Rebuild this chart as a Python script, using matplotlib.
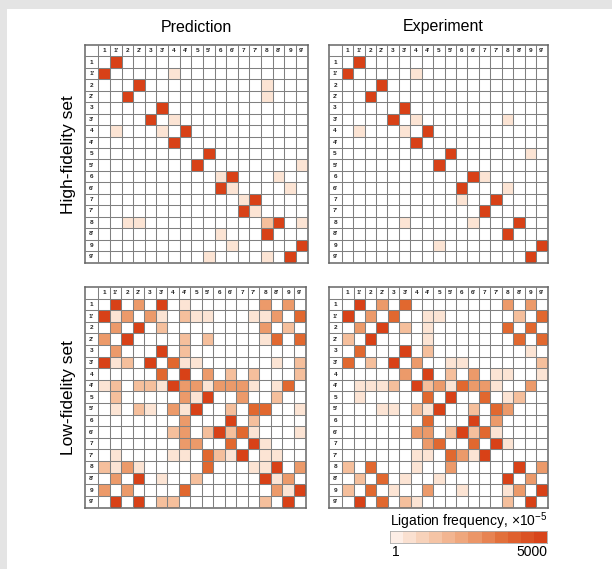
import numpy as np
import matplotlib
matplotlib.use("Agg")
import matplotlib.pyplot as plt
from matplotlib.colors import ListedColormap, BoundaryNorm, LinearSegmentedColormap
from matplotlib.patches import Rectangle

plt.rcParams['font.family'] = ['Liberation Sans', 'DejaVu Sans']
plt.rcParams['mathtext.fontset'] = 'custom'
plt.rcParams['mathtext.rm'] = 'Liberation Sans'

labels = ["1", "1'", "2", "2'", "3", "3'", "4", "4'", "5", "5'",
          "6", "6'", "7", "7'", "8", "8'", "9", "9'"]
idx = {l: i for i, l in enumerate(labels)}

# intensity levels 0 (none) .. 5 (highest), entries: row -> {col: level}
high_pred = {
    "1": {"1'": 5}, "1'": {"1": 5, "4": 1},
    "2": {"2'": 5, "8": 1}, "2'": {"2": 5, "8": 1},
    "3": {"3'": 5}, "3'": {"3": 5, "4": 1},
    "4": {"1'": 1, "3'": 1, "4'": 5}, "4'": {"4": 5},
    "5": {"5'": 5}, "5'": {"5": 5, "9'": 1},
    "6": {"6": 1, "6'": 5, "8'": 1}, "6'": {"6": 5, "6'": 1, "9": 1},
    "7": {"7": 1, "7'": 5}, "7'": {"7": 5, "7'": 1},
    "8": {"2": 1, "2'": 1, "8": 2, "8'": 5, "9'": 1}, "8'": {"6": 1, "8": 5},
    "9": {"6'": 1, "9'": 5}, "9'": {"5'": 1, "8": 1, "9": 5},
}
high_exp = {
    "1": {"1'": 5}, "1'": {"1": 5, "4": 1},
    "2": {"2'": 5}, "2'": {"2": 5},
    "3": {"3'": 5}, "3'": {"3": 5, "4": 1, "8": 1},
    "4": {"1'": 1, "3'": 1, "4'": 5}, "4'": {"4": 5},
    "5": {"5'": 5, "9": 1}, "5'": {"5": 5},
    "6": {"6'": 5, "7": 1}, "6'": {"6": 5, "8": 1},
    "7": {"6": 1, "7'": 5}, "7'": {"7": 5},
    "8": {"3'": 1, "6'": 1, "8'": 5}, "8'": {"8": 5},
    "9": {"5": 1, "9'": 5}, "9'": {"9": 5},
}
low_pred = {
    "1": {"1'": 5, "2'": 3, "3'": 5, "4'": 1, "8": 3, "9": 3},
    "1'": {"1": 5, "1'": 1, "2": 3, "3": 3, "3'": 1, "4'": 2, "5": 1, "5'": 1, "7'": 1, "8": 1, "8'": 3, "9'": 4},
    "2": {"1'": 3, "2'": 5, "3'": 2, "8": 3, "9": 2},
    "2'": {"1": 3, "2": 5, "4'": 2, "5'": 2, "8": 1, "8'": 4, "9'": 4},
    "3": {"1'": 3, "3'": 5, "4'": 2},
    "3'": {"1": 5, "1'": 1, "2": 2, "3": 5, "4": 4, "4'": 1, "5": 1, "8'": 1, "9'": 2},
    "4": {"3'": 4, "4'": 5, "5'": 3, "6'": 2, "7'": 2, "9'": 2},
    "4'": {"1": 1, "1'": 2, "2'": 2, "3": 2, "3'": 1, "4": 5, "4'": 3, "5": 3, "5'": 1, "6": 3, "6'": 3, "7": 3, "7'": 1, "8'": 1, "9": 4},
    "5": {"1'": 2, "4'": 3, "5": 1, "5'": 5, "7": 3, "8'": 2},
    "5'": {"1'": 1, "2'": 2, "3": 1, "4": 3, "4'": 1, "5": 5, "6'": 2, "7'": 4, "8": 4, "9'": 1},
    "6": {"4'": 3, "6'": 5, "7'": 2},
    "6'": {"4": 2, "4'": 3, "5'": 2, "6": 5, "6'": 2, "7": 4, "7'": 1, "9'": 1},
    "7": {"4'": 3, "5": 3, "6'": 4, "7'": 5, "8": 1},
    "7'": {"1'": 1, "4": 1, "4'": 1, "5'": 4, "6": 2, "6'": 1, "7": 5, "8": 1, "8'": 1},
    "8": {"1": 2, "1'": 1, "2": 3, "2'": 1, "5'": 4, "7'": 1, "8": 1, "8'": 5, "9'": 3},
    "8'": {"1'": 3, "2'": 5, "3'": 1, "5": 2, "8": 5, "8'": 1, "9": 3},
    "9": {"1": 3, "2": 3, "4'": 4, "8'": 3, "9": 1, "9'": 5},
    "9'": {"1'": 5, "2'": 5, "3'": 2, "4": 2, "8": 2, "9": 5},
}
low_exp = {
    "1": {"1'": 5, "2'": 3, "3'": 4, "8": 3, "9": 3},
    "1'": {"1": 5, "2": 3, "3": 4, "4'": 1, "5": 1, "8'": 2, "9'": 4},
    "2": {"1'": 3, "2'": 5, "3'": 2, "4'": 1, "8": 4, "9": 4},
    "2'": {"1": 2, "2": 5, "4'": 1, "8'": 4, "9'": 4},
    "3": {"1'": 4, "3'": 5, "4'": 2, "9": 1},
    "3'": {"1": 4, "2": 2, "3": 5, "4": 3, "5'": 1, "6": 1, "9'": 2},
    "4": {"3'": 3, "4'": 5, "5'": 2, "6'": 3, "7'": 1, "8": 1, "9'": 1},
    "4'": {"1'": 1, "2": 1, "2'": 1, "3": 2, "4": 5, "4'": 2, "5": 3, "5'": 1, "6": 4, "6'": 3, "7": 3, "7'": 1, "9": 3},
    "5": {"1'": 1, "4'": 4, "5'": 5, "7": 4, "8": 1, "8'": 2},
    "5'": {"2'": 1, "3": 1, "4": 2, "4'": 1, "5": 5, "6'": 2, "7'": 4, "8": 3},
    "6": {"4'": 4, "6'": 5, "7'": 3},
    "6'": {"4": 3, "4'": 3, "5'": 2, "6": 5, "6'": 2, "7": 4, "7'": 1},
    "7": {"4'": 3, "5": 4, "6'": 4, "7'": 5, "8": 1},
    "7'": {"4": 1, "4'": 1, "5'": 4, "6": 3, "6'": 1, "7": 5},
    "8": {"1": 2, "2": 4, "4": 1, "5'": 3, "8'": 5, "9'": 3},
    "8'": {"1'": 2, "2'": 4, "3'": 1, "5": 1, "8": 5, "9": 3},
    "9": {"1": 2, "2": 4, "3": 1, "4'": 3, "6": 1, "8": 1, "8'": 3, "9'": 5},
    "9'": {"1'": 5, "2'": 4, "3'": 2, "4": 1, "8": 2, "9": 5},
}

titles = ["Prediction", "Experiment"]
row_titles = ["High-fidelity set", "Low-fidelity set"]
cbar_label = r"Ligation frequency, ×10$^{-5}$"
cbar_ticks = ["1", "5000"]

level_colors = ['#ffffff', '#fce4d4', '#f5bf9c', '#ec9a6a', '#e1682f', '#d84117']
cmap = ListedColormap(level_colors)
norm = BoundaryNorm(np.arange(-0.5, 6.5, 1), cmap.N)


def to_matrix(d):
    m = np.zeros((18, 18))
    for r, cols in d.items():
        for c, v in cols.items():
            m[idx[r], idx[c]] = v
    return m


W, H = 612, 569
fig = plt.figure(figsize=(W / 100, H / 100), dpi=100, facecolor='white')
fig.patches.append(Rectangle((0, 1 - 9 / H), 1, 9 / H, transform=fig.transFigure,
                             facecolor='#e4e4e4', edgecolor='none', zorder=0))
fig.patches.append(Rectangle((0, 0), 7 / W, 1, transform=fig.transFigure,
                             facecolor='#e4e4e4', edgecolor='none', zorder=0))


def px_axes(l, t, r, b):
    return fig.add_axes([l / W, 1 - b / H, (r - l) / W, (b - t) / H])


LW = 1.15  # label column width in cells
HH = 1.0   # header row height in cells
panels = [
    (high_pred, (85, 45, 307.5, 262.5)),
    (high_exp, (328.5, 45, 547.5, 262.5)),
    (low_pred, (85, 287, 305.5, 507.5)),
    (low_exp, (329, 287, 547.5, 507.5)),
]

for data, (l, t, r, b) in panels:
    ax = px_axes(l, t, r, b)
    m = to_matrix(data)
    ax.pcolormesh(np.arange(19), np.arange(19), m, cmap=cmap, norm=norm)
    ax.set_xlim(-LW, 18)
    ax.set_ylim(18, -HH)
    for k in range(0, 18):
        ax.plot([k, k], [-HH, 18], color='#808080', lw=0.75, zorder=3)
        ax.plot([-LW, 18], [k, k], color='#808080', lw=0.75, zorder=3)
    for i, lab in enumerate(labels):
        ax.text(i + 0.5, -HH / 2, lab, ha='center', va='center', fontsize=4.6,
                fontweight='bold', color='#222222')
        ax.text(-LW / 2, i + 0.5, lab, ha='center', va='center', fontsize=4.6,
                fontweight='bold', color='#222222')
    ax.set_xticks([])
    ax.set_yticks([])
    for s in ax.spines.values():
        s.set_color('#666666')
        s.set_linewidth(1.1)

fig.text(196 / W, 1 - 27 / H, titles[0], ha='center', va='center', fontsize=11.5)
fig.text(443 / W, 1 - 27 / H, titles[1], ha='center', va='center', fontsize=11.5)
fig.text(69 / W, 1 - 155 / H, row_titles[0], ha='center', va='center', fontsize=12.5, rotation=90)
fig.text(69 / W, 1 - 398 / H, row_titles[1], ha='center', va='center', fontsize=12.5, rotation=90)

# colorbar
cax = px_axes(390, 531, 547, 543)
grad_cmap = LinearSegmentedColormap.from_list('g', ['#fdeee6', '#f6c8aa', '#eea074', '#e26c36', '#d8441a'])
steps = np.linspace(0, 1, 12).reshape(1, -1)
cax.imshow(steps, cmap=grad_cmap, aspect='auto', extent=[0, 1, 0, 1])
cax.set_xticks([])
cax.set_yticks([])
for s in cax.spines.values():
    s.set_color('#aaaaaa')
    s.set_linewidth(0.6)
fig.text(390 / W, 1 - 521 / H, cbar_label, ha='left', va='center', fontsize=10)
fig.text(392 / W, 1 - 552 / H, cbar_ticks[0], ha='left', va='center', fontsize=10)
fig.text(547 / W, 1 - 552 / H, cbar_ticks[1], ha='right', va='center', fontsize=10)

fig.savefig('out.png', dpi=100, facecolor=fig.get_facecolor())
